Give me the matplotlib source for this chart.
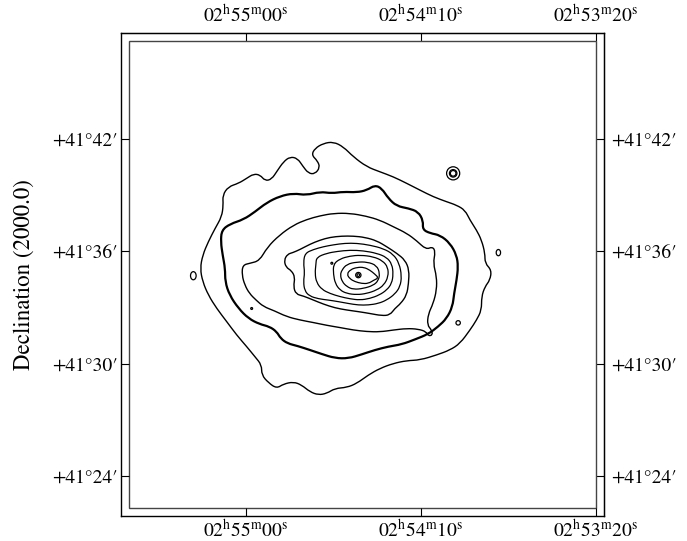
import numpy as np
import matplotlib.pyplot as plt
from matplotlib.patches import Rectangle, Ellipse, PathPatch
from matplotlib.path import Path
from matplotlib.ticker import FixedLocator, FuncFormatter

plt.rcParams['font.family'] = 'STIXGeneral'
plt.rcParams['mathtext.fontset'] = 'stix'

# nucleus position: RA in seconds of time, Dec in arcmin
ra0 = 2*3600 + 54*60 + 27.9
dec0 = 41*60 + 34.70
cosd = np.cos(np.radians(dec0 / 60.0))

# isophote vertices, arcsec offsets (east, north) from the nucleus
level1 = np.array([
    (150, 387), (139, 408), (112, 424), (80, 429), (48, 413), (16, 381), (-27, 349),
    (-69, 333), (-112, 317), (-155, 296), (-198, 274), (-240, 253), (-283, 237),
    (-315, 226), (-342, 210), (-358, 178), (-379, 146), (-395, 114), (-406, 72),
    (-406, 40), (-427, 18), (-422, -14), (-406, -35), (-395, -67), (-395, -110),
    (-379, -142), (-358, -174), (-326, -217), (-294, -238), (-251, -254), (-198, -270),
    (-155, -272), (-112, -281), (-69, -297), (-32, -318), (5, -345), (37, -358),
    (75, -361), (101, -377), (128, -382), (155, -372), (182, -350), (208, -340),
    (240, -347), (262, -361), (288, -343), (310, -318), (310, -286), (331, -260),
    (358, -227), (390, -190), (422, -147), (454, -105), (481, -62), (499, -19),
    (507, 23), (499, 66), (481, 109), (459, 152), (438, 189), (433, 226), (435, 258),
    (417, 285), (384, 296), (358, 312), (336, 326), (315, 323), (299, 304), (278, 309),
    (260, 336), (240, 365), (219, 381), (195, 376), (178, 351), (160, 328), (139, 326),
    (123, 347), (131, 368)])

level2 = np.array([
    (438, 146), (411, 166), (368, 180), (331, 205), (294, 234), (251, 255), (208, 264),
    (166, 258), (123, 269), (85, 264), (48, 269), (5, 267), (-27, 274), (-53, 290),
    (-75, 280), (-96, 248), (-123, 223), (-160, 216), (-192, 205), (-208, 176),
    (-206, 148), (-230, 136), (-262, 130), (-294, 104), (-315, 66), (-320, 29),
    (-315, -14), (-307, -57), (-302, -99), (-283, -137), (-256, -163), (-224, -187),
    (-182, -204), (-139, -220), (-96, -227), (-53, -238), (-11, -252), (32, -265),
    (75, -264), (117, -251), (155, -238), (195, -225), (227, -217), (249, -201),
    (262, -179), (285, -163), (317, -155), (352, -137), (384, -105), (413, -62),
    (427, -19), (427, 23), (435, 66), (441, 109)])

level3 = np.array([
    (371, 34), (347, 40), (317, 48), (292, 91), (253, 130), (208, 162), (166, 180),
    (123, 192), (78, 200), (27, 200), (-25, 191), (-69, 178), (-112, 157), (-155, 136),
    (-187, 112), (-217, 84), (-238, 93), (-247, 77), (-240, 40), (-251, -3), (-251, -46),
    (-240, -89), (-224, -123), (-221, -158), (-235, -174), (-238, -190), (-224, -193),
    (-217, -179), (-192, -171), (-155, -169), (-112, -174), (-69, -180), (-27, -179),
    (16, -174), (59, -166), (101, -159), (144, -150), (187, -142), (230, -131),
    (270, -112), (304, -99), (328, -78), (349, -57), (364, -30), (373, 2)])

level4 = np.array([
    (187, 84), (155, 101), (123, 114), (91, 123), (53, 127), (16, 127), (-21, 123),
    (-59, 112), (-91, 93), (-123, 72), (-150, 50), (-163, 18), (-161, -25), (-155, -62),
    (-136, -89), (-117, -105), (-101, -126), (-75, -128), (-37, -121), (0, -115),
    (37, -110), (75, -103), (112, -91), (144, -78), (176, -65), (200, -59), (208, -35),
    (203, -5), (214, 16), (232, 27), (238, 50), (227, 69), (210, 74)])

level5 = np.array([
    (171, 72), (144, 84), (112, 93), (80, 99), (43, 104), (5, 104), (-37, 98), (-80, 87),
    (-112, 69), (-131, 40), (-139, -1), (-134, -35), (-117, -59), (-91, -78), (-64, -89),
    (-32, -94), (0, -94), (32, -89), (64, -83), (96, -78), (128, -74), (157, -65),
    (172, -48), (176, -19), (172, 10), (176, 42)])

level6 = np.array([
    (134, 59), (101, 72), (67, 78), (27, 82), (-16, 80), (-59, 72), (-91, 59), (-108, 37),
    (-112, 5), (-107, -25), (-91, -46), (-67, -62), (-37, -73), (-5, -78), (27, -74),
    (59, -67), (91, -57), (117, -44), (134, -22), (139, 7), (136, 37)])

level7 = np.array([
    (80, 37), (59, 54), (27, 63), (-7, 66), (-48, 61), (-78, 48), (-95, 27), (-96, -3),
    (-82, -30), (-59, -46), (-27, -57), (5, -61), (37, -57), (59, -46), (74, -25), (80, 5)])

level8 = np.array([
    (53, 18), (37, 37), (5, 44), (-29, 44), (-59, 33), (-69, 7), (-64, -16), (-48, -31),
    (-16, -41), (16, -44), (37, -35), (52, -19), (58, 2)])

level9 = np.array([
    (37, 5), (25, 20), (3, 27), (-18, 27), (-37, 18), (-53, 5), (-65, -7), (-50, -14),
    (-32, -25), (-11, -25), (11, -19), (27, -10)])

isophotes = [level1, level2, level3, level4, level5, level6, level7, level8, level9]
widths = [1.0, 1.6, 1.0, 1.0, 0.9, 0.9, 0.9, 0.9, 0.9]

# small closed loops: east, north offset (arcsec), semi-axes east / north (arcsec)
loop_dx = [0, 0, -304, -304, -304, 529, -449, -320, 342, 85]
loop_dy = [2, 2, 328, 328, 328, 0, 74, -151, -105, 40]
loop_rx = [8.5, 4.3, 21, 12, 9, 9, 7, 7, 3, 3]
loop_ry = [8.5, 4.3, 21, 12, 9, 13, 10, 7, 3, 3]

ra_ticks = [10500, 10450, 10400]
dec_ticks = [2484, 2490, 2496, 2502]


def to_ra(dx):
    return ra0 + np.asarray(dx) / (15.0 * cosd)


def to_dec(dy):
    return dec0 + np.asarray(dy) / 60.0


def smooth_loop(ra, dec):
    # closed quadratic-bezier path through the edge midpoints
    p = np.column_stack([ra, dec])
    mid = 0.5 * (p + np.roll(p, -1, axis=0))
    verts = [mid[-1]]
    codes = [Path.MOVETO]
    for i in range(len(p)):
        verts += [p[i], mid[i]]
        codes += [Path.CURVE3, Path.CURVE3]
    return Path(verts, codes)


def ra_label(v, pos):
    t = int(round(v))
    return r'$%02d^{\mathrm{h}}%02d^{\mathrm{m}}%02d^{\mathrm{s}}$' % (t // 3600, (t % 3600) // 60, t % 60)


def dec_label(v, pos):
    d = int(v // 60)
    return '+%d\u00b0%02d\u2032' % (d, int(round(v - d * 60)))


fig = plt.figure(figsize=(6.87, 5.41), dpi=100)
ax = fig.add_axes([121/687, 1 - 516/541, 483/687, 483/541])

for c, lw in zip(isophotes, widths):
    ax.add_patch(PathPatch(smooth_loop(to_ra(c[:, 0]), to_dec(c[:, 1])),
                           fill=False, ec='k', lw=lw, joinstyle='round'))

for dx, dy, rx, ry in zip(loop_dx, loop_dy, loop_rx, loop_ry):
    ax.add_patch(Ellipse((to_ra(dx), to_dec(dy)), 2 * rx / (15.0 * cosd), 2 * ry / 60.0,
                         fill=False, ec='k', lw=0.9))

ax.set_xlim(10535.71, 10397.71)
ax.set_ylim(2481.87, 2507.66)

ax.xaxis.set_major_locator(FixedLocator(ra_ticks))
ax.xaxis.set_major_formatter(FuncFormatter(ra_label))
ax.yaxis.set_major_locator(FixedLocator(dec_ticks))
ax.yaxis.set_major_formatter(FuncFormatter(dec_label))
ax.tick_params(direction='in', length=5.8, width=0.8, labelsize=14, pad=2.5,
               top=False, right=False)

top = ax.secondary_xaxis('top')
top.xaxis.set_major_locator(FixedLocator(ra_ticks))
top.xaxis.set_major_formatter(FuncFormatter(ra_label))
top.tick_params(direction='in', length=5.8, width=0.8, labelsize=14, pad=5)

right = ax.secondary_yaxis('right')
right.yaxis.set_major_locator(FixedLocator(dec_ticks))
right.yaxis.set_major_formatter(FuncFormatter(dec_label))
right.tick_params(direction='in', length=5.8, width=0.8, labelsize=14, pad=5)

for s in ax.spines.values():
    s.set_linewidth(1.0)

inset = 8 / 483
ax.add_patch(Rectangle((inset, inset), 1 - 2 * inset, 1 - 2 * inset, transform=ax.transAxes,
                       fill=False, ec='#444444', lw=1.0))

fig.text(24/687, 1 - 275/541, 'Declination (2000.0)', rotation=90, ha='center', va='center',
         fontsize=16.5)

fig.savefig('out.png', dpi=100)
